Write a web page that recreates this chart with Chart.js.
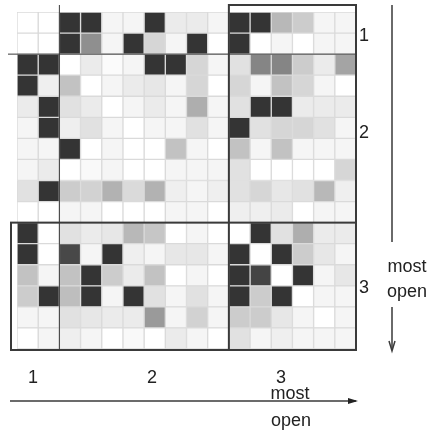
<!DOCTYPE html>
<html>
<head>
<meta charset="utf-8">
<script src="https://cdn.jsdelivr.net/npm/chart.js@4.4.1/dist/chart.umd.min.js"></script>
<style>
  html, body { margin: 0; padding: 0; background: #fff; }
  canvas { display: block; }
</style>
</head>
<body>
<canvas id="matrix" width="439" height="434"></canvas>
<script>
// shade of each cell, 0 = white, 1 = darkest (rows top to bottom, columns left to right)
var row1  = [0, 0, 1, 1, .05, .05, 1, .1, .1, .05, 1, 1, .35, .25, .05, .05];
var row2  = [0, 0, 1, .55, .05, 1, .2, .05, 1, 0, 1, 0, .05, 0, .05, .05];
var row3  = [1, 1, 0, .1, .02, .05, 1, 1, .2, .05, .15, .6, .6, .25, .1, .45];
var row4  = [1, .08, .3, 0, .05, .1, .12, .05, .2, 0, .2, .05, .3, .2, .05, 0];
var row5  = [.1, 1, .15, .1, 0, .05, .1, .05, .4, .05, .15, 1, 1, .1, .1, .1];
var row6  = [.05, 1, .08, .15, .05, 0, .05, .05, .15, .05, 1, .15, .2, .2, .15, .05];
var row7  = [.05, .05, 1, 0, .05, 0, 0, .3, .05, 0, .3, .05, .3, .05, .05, .05];
var row8  = [.05, .1, 0, .03, .05, 0, 0, .05, .05, .05, .15, 0, 0, 0, 0, .2];
var row9  = [.15, 1, .25, .22, .38, .18, .38, .08, .05, .08, .15, .2, .12, .15, .35, .08];
var row10 = [0, 0, .05, .05, 0, 0, 0, .05, .05, 0, .08, .08, .1, 0, .05, .05];
var row11 = [1, 0, .15, .1, .12, .35, .28, 0, .05, 0, 0, 1, .15, .4, .1, .1];
var row12 = [1, 0, .9, .05, 1, .08, .05, .12, .12, .05, 1, 0, 1, .25, .12, .05];
var row13 = [.3, .05, .3, 1, .25, .1, .3, 0, .05, 0, 1, .92, 0, 1, .05, .12];
var row14 = [.25, 1, .32, 1, .05, 1, .15, .05, .15, .05, 1, .25, 1, 0, .05, .05];
var row15 = [.05, .05, .15, .12, .1, .1, .5, .05, .22, .05, .25, .25, .12, .05, 0, .05];
var row16 = [0, .05, .08, .05, 0, .03, 0, .1, .05, 0, .15, .05, .08, .05, .05, .05];

var rows = [row1, row2, row3, row4, row5, row6, row7, row8,
            row9, row10, row11, row12, row13, row14, row15, row16];
var rowNames = ['r1','r2','r3','r4','r5','r6','r7','r8','r9','r10','r11','r12','r13','r14','r15','r16'];

// groups: first 2 items, next 8, last 6
var groupLabels = ['1', '2', '3'];
var groupStarts = [0, 2, 10];
var groupSizes  = [2, 8, 6];
var axisWords = ['most', 'open'];

function shade(v) {
  var g = Math.round(255 - v * (255 - 52));
  return 'rgb(' + g + ',' + g + ',' + g + ')';
}

var datasets = [];
for (var j = 0; j < 16; j++) {
  datasets.push({
    data: rows.map(function () { return 1; }),
    backgroundColor: rows.map(function (r) { return shade(r[j]); }),
    borderColor: '#dadada',
    borderWidth: 1,
    borderSkipped: false,
    categoryPercentage: 1,
    barPercentage: 1
  });
}

var overlay = {
  id: 'overlay',
  afterDraw: function (chart) {
    var c = chart.ctx;
    var xs = chart.scales.x, ys = chart.scales.y;
    var area = chart.chartArea;
    var xb1 = xs.getPixelForValue(groupStarts[1]);
    var xb2 = xs.getPixelForValue(groupStarts[2]);
    var yb1 = ys.getPixelForValue(groupStarts[1] - 0.5);
    var yb2 = ys.getPixelForValue(groupStarts[2] - 0.5);
    var right = area.right, bottom = area.bottom + 1;

    c.save();
    c.strokeStyle = '#3a3a3a';
    // thin separators of group 1
    c.lineWidth = 1;
    c.beginPath();
    c.moveTo(xb1, 5); c.lineTo(xb1, bottom);
    c.moveTo(8, yb1); c.lineTo(right, yb1);
    c.stroke();
    // boxes round group 3
    c.lineWidth = 2;
    c.strokeRect(xb2, 5, right - xb2, bottom - 5);
    c.strokeRect(11, yb2, right - 11, bottom - yb2);

    // group labels
    c.fillStyle = '#222';
    c.font = '18px "Liberation Sans", Arial, sans-serif';
    c.textAlign = 'left';
    c.textBaseline = 'alphabetic';
    for (var g = 0; g < 3; g++) {
      var yMid = ys.getPixelForValue(groupStarts[g] + (groupSizes[g] - 1) / 2);
      var yOff = g === 0 ? 8 : (g === 2 ? 7 : 0);
      c.fillText(groupLabels[g], right + 3, yMid + yOff);
    }
    var bottomX = [28, 147, 276];
    for (g = 0; g < 3; g++) {
      c.fillText(groupLabels[g], bottomX[g], 383);
    }

    // vertical arrow
    c.lineWidth = 1.5;
    c.beginPath();
    c.moveTo(392, 5); c.lineTo(392, 242);
    c.moveTo(392, 307); c.lineTo(392, 348);
    c.stroke();
    c.beginPath();
    c.moveTo(389, 341); c.lineTo(392, 351); c.lineTo(395, 341);
    c.stroke();
    c.textAlign = 'center';
    c.fillText(axisWords[0], 407, 272);
    c.fillText(axisWords[1], 407, 297);

    // horizontal arrow
    c.beginPath();
    c.moveTo(10, 401); c.lineTo(356, 401);
    c.stroke();
    c.beginPath();
    c.moveTo(348, 398); c.lineTo(358, 401); c.lineTo(348, 404);
    c.closePath();
    c.fill();
    c.fillText(axisWords[0], 290, 399);
    c.fillText(axisWords[1], 291, 426);
    c.restore();
  }
};

var chart = new Chart(document.getElementById('matrix').getContext('2d'), {
  type: 'bar',
  data: { labels: rowNames, datasets: datasets },
  options: {
    indexAxis: 'y',
    responsive: false,
    devicePixelRatio: 1,
    animation: false,
    layout: { padding: { left: 17, right: 83, top: 12, bottom: 85 } },
    scales: {
      x: { type: 'linear', stacked: true, min: 0, max: 16, display: false },
      y: { stacked: true, display: false }
    },
    plugins: { legend: { display: false }, tooltip: { enabled: false } }
  },
  plugins: [overlay]
});
</script>
</body>
</html>
